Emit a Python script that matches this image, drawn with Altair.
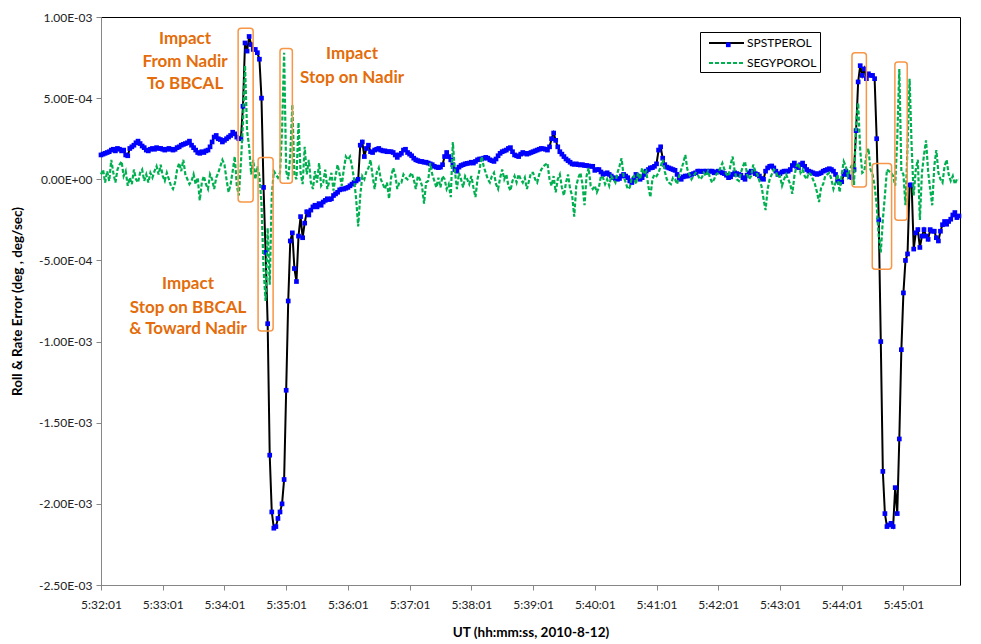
import altair as alt
import pandas as pd

# ---- data (values in units of 1e-4 deg, one row per minute from 5:32:01, 2-s steps) ----
spstperol_rows = [
    [1.5, 1.55, 1.6, 1.65, 1.7, 1.8, 1.85, 1.75, 1.9, 1.85, 1.75, 1.8, 1.5, 1.45, 1.9, 2.0, 2.1, 2.25, 2.35, 2.2, 2.05, 1.95, 1.8, 1.75, 1.85, 1.9, 1.85, 1.95, 1.9, 1.9],
    [1.85, 1.8, 1.85, 1.9, 1.85, 1.8, 1.85, 1.95, 2.0, 2.1, 2.15, 2.2, 2.25, 2.35, 2.1, 1.95, 1.8, 1.65, 1.6, 1.7, 1.65, 1.75, 1.8, 2.0, 2.3, 2.6, 2.7, 2.5, 2.45, 2.3],
    [2.4, 2.5, 2.6, 2.7, 2.9, 2.8, 2.6, 2.5, 2.5, 4.5, 8.4, 7.9, 8.8, 8.3, 8.0, 8.0, 7.8, 7.4, 5.0, -0.5, -4.5, -8.9, -17.0, -20.5, -21.5, -21.4, -20.9, -20.5, -20.0, -18.5],
    [-13.0, -7.5, -3.8, -3.3, -5.5, -6.3, -3.5, -2.3, -3.6, -2.7, -2.0, -2.2, -1.9, -1.7, -1.6, -1.7, -1.5, -1.6, -1.4, -1.3, -1.2, -1.25, -1.2, -1.0, -0.9, -0.8, -0.65, -0.6, -0.6, -0.55],
    [-0.5, -0.4, -0.3, -0.2, -0.1, 0.0, 2.1, 2.3, 1.4, 1.9, 2.1, 1.7, 1.65, 1.8, 1.85, 1.9, 1.8, 1.75, 1.75, 1.7, 1.7, 1.7, 1.65, 1.5, 1.35, 1.5, 1.6, 1.8, 1.85, 1.65],
    [1.55, 1.45, 1.3, 1.2, 1.15, 1.1, 1.1, 1.05, 1.05, 1.0, 0.95, 0.9, 0.8, 0.75, 0.72, 0.75, 0.9, 1.4, 1.65, 1.4, 1.2, 0.9, 0.6, 0.5, 0.75, 0.85, 0.9, 0.95, 0.98, 1.0],
    [1.05, 1.0, 1.1, 1.2, 1.25, 1.25, 1.3, 1.35, 1.3, 1.2, 1.15, 1.1, 1.25, 1.45, 1.6, 1.7, 1.75, 1.8, 1.9, 1.95, 1.7, 1.5, 1.45, 1.4, 1.55, 1.65, 1.6, 1.55, 1.6, 1.65],
    [1.7, 1.75, 1.8, 1.85, 1.9, 1.88, 1.85, 1.8, 2.0, 2.5, 2.85, 2.4, 2.0, 1.7, 1.55, 1.4, 1.25, 1.15, 1.05, 0.95, 0.92, 0.95, 0.9, 0.88, 0.9, 0.85, 0.85, 0.82, 0.8, 0.8],
    [0.55, 0.6, 0.6, 0.45, 0.3, 0.35, 0.4, 0.3, 0.2, 0.1, 0.05, 0.0, 0.05, 0.2, 0.3, 0.2, 0.1, -0.1, -0.2, 0.0, 0.3, 0.2, 0.0, 0.1, 0.3, 0.5, 0.6, 0.7, 0.72, 0.8],
    [0.95, 1.8, 2.0, 1.3, 0.9, 0.75, 0.7, 0.65, 0.6, 0.55, 0.3, 0.05, 0.0, 0.15, 0.2, 0.2, 0.25, 0.3, 0.35, 0.4, 0.5, 0.5, 0.48, 0.5, 0.5, 0.45, 0.5, 0.5, 0.4, 0.45],
    [0.5, 0.45, 0.4, 0.35, 0.25, 0.1, 0.15, 0.3, 0.4, 0.35, 0.3, 0.25, 0.1, 0.0, 0.25, 0.4, 0.5, 0.45, 0.35, 0.3, 0.2, 0.05, 0.0, 0.5, 0.7, 0.8, 0.82, 0.7, 0.5, 0.3],
    [0.35, 0.45, 0.5, 0.5, 0.5, 0.6, 0.85, 1.0, 0.8, 0.72, 0.9, 1.0, 0.8, 0.6, 0.5, 0.45, 0.4, 0.35, 0.3, 0.35, 0.4, 0.5, 0.55, 0.6, 0.65, 0.6, 0.5, 0.3, -0.1, -0.2],
    [-0.15, 0.3, 0.5, 0.3, 0.15, 0.1, 0.6, 3.0, 6.0, 7.0, 6.4, 6.8, 6.2, 6.5, 6.4, 6.4, 6.2, 2.5, -2.5, -10.0, -18.0, -20.6, -21.4, -21.3, -21.2, -21.4, -19.0, -20.6, -16.0, -10.5],
    [-7.0, -5.0, -4.6, -0.35, -0.35, -4.3, -3.3, -3.1, -4.2, -3.5, -3.1, -3.5, -3.7, -3.1, -3.2, -3.2, -3.6, -3.8, -3.2, -2.8, -2.6, -2.77, -2.6, -2.46, -2.2, -2.05, -2.36, -2.26],
]

segyporol_rows = [
    [0.3, 0.6, -0.2, 0.5, -0.1, 1.2, 0.4, -0.2, 0.6, 0.9, 1.1, 0.2, 0.5, -0.4, 0.1, -0.3, 0.6, 0.0, -0.2, 0.4, 0.6, -0.1, 0.3, -0.2, 0.4, 0.1, 0.5, 0.8, 0.3, 0.9],
    [0.2, -0.1, 0.4, 0.0, -0.4, -0.6, -0.2, 0.6, 1.0, 0.5, 1.2, 0.3, 0.0, -0.3, -0.1, 0.3, -0.3, 0.1, -1.3, -0.2, 0.2, -0.3, -0.6, 0.3, 0.0, -0.6, 0.1, 0.4, 0.8, 1.2],
    [0.9, 0.0, -0.8, -0.3, 0.5, 1.4, -0.4, -1.0, 1.0, 3.5, 7.0, 3.0, 2.0, 0.3, 1.2, 0.0, 0.8, 0.2, -1.5, -5.5, -7.5, -3.0, -6.5, -1.0, 0.5, 0.3, 0.1, 0.4, 3.0, 7.8],
    [0.5, 0.0, 1.5, 4.6, 0.3, 0.0, 3.5, 0.4, -0.3, 2.0, 0.3, 1.2, -0.2, -0.6, 0.5, -0.2, 1.0, -0.4, -0.2, 0.6, -0.6, -0.1, 0.4, -0.7, 0.2, 0.9, 0.3, -0.4, 0.6, 1.4],
    [1.2, 1.4, 0.8, 0.0, -1.2, -2.9, -1.0, 0.2, 0.0, 0.5, 0.7, 1.2, 0.2, -0.6, 0.4, 0.7, 0.0, -0.3, -0.6, -0.2, -1.2, 0.1, 0.7, 0.3, -0.6, -0.2, -0.2, 0.3, 0.1, 0.0],
    [0.2, 0.4, 0.0, -0.6, 0.2, 0.0, -0.4, -1.5, -0.2, -0.1, 1.0, 0.3, -0.1, -0.5, 0.1, -0.5, 0.2, 0.0, -0.6, -0.3, -1.1, 2.3, 0.5, -0.6, 0.4, 0.0, -0.5, 0.2, 0.0, -0.3],
    [0.2, -0.5, -1.1, 0.0, 0.6, 1.4, 0.8, 0.4, 0.0, -0.2, 0.2, 0.4, -0.3, -0.6, 0.1, 0.6, 0.0, 0.3, -0.4, -0.7, -0.1, 0.2, -0.2, 0.3, 0.0, -0.2, 0.1, -0.6, -0.1, 0.4],
    [0.4, 0.0, -0.2, 0.3, 0.6, 0.8, 0.9, 1.0, 0.0, -0.4, 0.2, -0.8, 0.0, 0.3, -0.5, -1.0, -0.2, 0.3, -0.6, -1.0, -2.3, -0.4, 0.1, 0.4, -0.3, -1.6, 0.2, 0.7, -0.4, -0.6],
    [-0.4, -0.8, -0.5, 0.2, 0.1, -0.3, 0.0, -0.4, 0.2, 0.0, -0.2, 0.4, 0.8, 1.3, 0.2, -0.2, -0.6, -0.5, 0.1, 0.2, -0.3, 0.4, 0.0, 0.7, 0.3, 0.5, -0.4, -1.1, 0.0, 0.3],
    [0.2, 0.4, 0.8, 1.2, 0.5, 0.0, -0.2, -0.3, 0.1, 0.0, -0.3, 0.2, 0.6, 1.0, 1.5, 0.6, 0.3, 0.0, 0.2, 0.4, 0.3, 0.0, 0.1, 0.4, 0.2, 0.5, 0.1, -0.2, 0.0, 0.3],
    [0.4, 0.7, 1.0, 0.6, 0.3, 0.2, 0.9, 1.4, 0.5, 0.0, -0.1, 0.4, 0.8, 1.1, 0.3, 0.0, 0.2, 0.9, 0.5, 0.3, -0.1, -0.4, -1.2, -1.9, -0.6, 0.0, 0.3, 0.6, 0.5, 0.1],
    [0.2, -0.4, 0.0, 0.3, 0.0, -0.3, -0.9, 0.2, 0.8, 1.0, 0.4, 0.6, 0.2, 0.0, 0.4, 0.3, 0.0, -0.3, -0.8, -1.4, -0.5, -0.3, 0.2, 0.3, 0.4, 0.0, -0.6, -0.2, 0.3, -0.8],
    [0.3, 1.1, 0.8, 0.2, 0.6, 0.9, -0.35, 3.5, 4.7, 1.8, 0.4, 0.5, 1.5, 1.9, 0.6, 0.3, -0.4, -1.6, -3.5, -4.5, -2.5, -1.0, 0.6, 0.5, 0.4, 0.2, -0.4, 2.5, 6.8, 0.5],
    [0.3, -1.6, 2.0, 6.2, 2.0, -1.0, 0.6, 1.2, -2.5, 0.4, 1.5, 2.4, 0.5, -0.6, -1.6, 0.8, 1.8, 0.4, 0.0, -0.2, 0.8, 1.2, 0.3, -0.1, 0.2, -0.3, 0.0, 0.0],
]

step_s = 2  # sampling step in seconds
series_names = ["SPSTPEROL", "SEGYPOROL"]

# annotation boxes (seconds after 5:32:01, values in 1e-4)
box_t0 = [133.3, 152.7, 174.0, 730.0, 749.7, 771.7]
box_t1 = [147.9, 167.3, 186.0, 744.0, 768.5, 783.7]
box_v0 = [9.3, 1.35, 8.06, 7.8, 0.97, 7.22]
box_v1 = [-1.4, -9.35, -0.25, -0.47, -5.54, -2.52]

# annotation text lines
ann_text = ["Impact", "From Nadir", "To BBCAL",
            "Impact", "Stop on Nadir",
            "Impact", "Stop on BBCAL", "& Toward Nadir"]
ann_t = [81.7, 81.7, 81.7, 244.0, 244.0, 84.6, 84.6, 84.6]
ann_v = [8.65, 7.25, 5.9, 7.7, 6.25, -6.45, -7.95, -9.25]

y_ticks = [-2.5e-3, -2.0e-3, -1.5e-3, -1.0e-3, -5.0e-4, 0.0, 5.0e-4, 1.0e-3]
x_ticks = [60 * m for m in range(14)]

# ---- frames ----
spst = [v for r in spstperol_rows for v in r]
segy = [v for r in segyporol_rows for v in r]
df_a = pd.DataFrame({"t": [i * step_s for i in range(len(spst))],
                     "v": [x * 1e-4 for x in spst], "series": series_names[0]})
df_b = pd.DataFrame({"t": [i * step_s for i in range(len(segy))],
                     "v": [x * 1e-4 for x in segy], "series": series_names[1]})
df_box = pd.DataFrame({"t0": box_t0, "t1": box_t1,
                       "v0": [x * 1e-4 for x in box_v0], "v1": [x * 1e-4 for x in box_v1]})
df_ann = pd.DataFrame({"label": ann_text, "t": ann_t, "v": [x * 1e-4 for x in ann_v]})

FONT = "Lato"
GRAY = "#868686"
ORANGE_TXT = "#E46C0A"
ORANGE_BOX = "#F79646"
GREEN = "#00B050"

xscale = alt.Scale(domain=[0, 835], nice=False, zero=False)
yscale = alt.Scale(domain=[-2.5e-3, 1.0e-3], nice=False, zero=False)

x_axis = alt.Axis(values=x_ticks, labelExpr="'5:' + (32 + floor(datum.value / 60)) + ':01'",
                  title="UT (hh:mm:ss, 2010-8-12)", grid=False, tickSize=5,
                  labelFlush=False, labelOverlap=False,
                  labelPadding=9, titlePadding=15)
y_axis = alt.Axis(values=y_ticks,
                  labelExpr="datum.value == 0 ? '0.00E+00' : (datum.value < 0 ? '-' : '') + replace(upper(format(abs(datum.value), '.2e')), 'E-', 'E-0')",
                  title="Roll & Rate Error (deg , deg/sec)", grid=False, tickSize=5,
                  labelFlush=False, labelOverlap=False,
                  labelPadding=4, titlePadding=14)

color_scale = alt.Scale(domain=series_names, range=["#000000", GREEN])
dash_scale = alt.Scale(domain=series_names, range=[[1, 0], [4, 2]])
legend = alt.Legend(title=None, orient="none", legendX=599, legendY=15,
                    strokeColor="#000000", fillColor="#FFFFFF", padding=3,
                    symbolType="M-2.5,0H2.5", symbolSize=196, symbolStrokeWidth=2,
                    symbolOffset=15.5, labelOffset=12.5, rowPadding=6,
                    labelFont=FONT, labelFontSize=12, labelColor="#000000")

x_enc = alt.X("t:Q", scale=xscale, axis=x_axis)
y_enc = alt.Y("v:Q", scale=yscale, axis=y_axis)

line_a = alt.Chart(df_a).mark_line(strokeWidth=2).encode(
    x=x_enc, y=y_enc,
    color=alt.Color("series:N", scale=color_scale, legend=legend),
    strokeDash=alt.StrokeDash("series:N", scale=dash_scale, legend=legend),
)
pts_a = alt.Chart(df_a).mark_point(shape="square", filled=True, size=22, opacity=1, strokeWidth=0).encode(
    x=alt.X("t:Q", scale=xscale), y=alt.Y("v:Q", scale=yscale),
    fill=alt.Fill("series:N", scale=alt.Scale(domain=[series_names[0]], range=["#0000FF"]),
                  legend=alt.Legend(title=None, orient="none", legendX=622.3, legendY=22.8,
                                    padding=0, symbolType="square", symbolSize=22,
                                    labelExpr="''", symbolStrokeWidth=0)),
)
line_b = alt.Chart(df_b).mark_line(strokeWidth=2.2).encode(
    x=alt.X("t:Q", scale=xscale), y=alt.Y("v:Q", scale=yscale),
    color=alt.Color("series:N", scale=color_scale, legend=legend),
    strokeDash=alt.StrokeDash("series:N", scale=dash_scale, legend=legend),
)
boxes = alt.Chart(df_box).mark_rect(filled=False, stroke=ORANGE_BOX, strokeWidth=1.5, cornerRadius=3).encode(
    x=alt.X("t0:Q", scale=xscale), x2="t1:Q",
    y=alt.Y("v0:Q", scale=yscale), y2="v1:Q",
)
texts = alt.Chart(df_ann).mark_text(font=FONT, fontSize=17, fontWeight="bold", color=ORANGE_TXT,
                                    align="center", baseline="middle").encode(
    x=alt.X("t:Q", scale=xscale), y=alt.Y("v:Q", scale=yscale), text="label:N",
)

chart = alt.layer(line_a, pts_a, line_b, boxes, texts).properties(
    width=859, height=568,
    padding={"left": 93, "top": 9, "right": 12, "bottom": 58},
    autosize="none",
).configure_view(
    stroke="#000000", strokeWidth=1
).configure_axis(
    domainColor=GRAY, tickColor=GRAY, labelFont=FONT, labelFontSize=12, labelColor="#222222",
    titleFont=FONT, titleFontSize=13.5, titleFontWeight="bold", titleColor="#000000",
)

chart.save("out.html", embed_options={"renderer": "svg", "actions": False})
